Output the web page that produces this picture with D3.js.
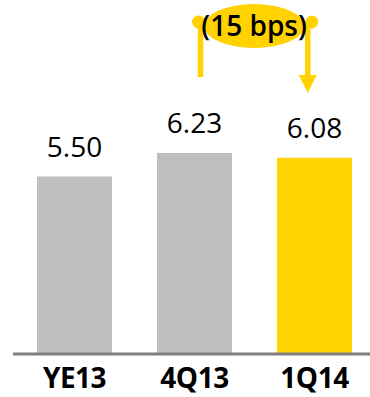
<!DOCTYPE html>
<html>
<head>
<meta charset="utf-8" />
<script src="https://d3js.org/d3.v7.min.js"></script>
<style>
    body { margin: 0; background: #fff; }
    text { font-family: "Open Sans", sans-serif; }
</style>
</head>
<body>
<script>
    // chart values
    var periods = ["YE13", "4Q13", "1Q14"];
    var values = [5.50, 6.23, 6.08];
    var barColors = ["#bfbfbf", "#bfbfbf", "#ffd200"];
    var changeLabel = "(15 bps)";

    var width = 370, height = 397;
    var baseY = 354;

    var svg = d3.select("body").append("svg")
        .attr("width", width)
        .attr("height", height);

    var x = d3.scaleBand()
        .domain(periods)
        .range([13, 376])
        .paddingInner(0.375)
        .paddingOuter(0.2);

    var y = d3.scaleLinear()
        .domain([0, 11])
        .range([baseY, -1]);

    var data = periods.map((p, i) => ({ period: p, value: values[i], color: barColors[i] }));

    // bars
    svg.append("g")
        .selectAll("rect")
        .data(data)
        .enter()
        .append("rect")
            .attr("x", d => x(d.period))
            .attr("y", d => y(d.value))
            .attr("width", x.bandwidth())
            .attr("height", d => baseY - y(d.value))
            .style("fill", d => d.color);

    // value labels
    svg.append("g")
        .selectAll("text")
        .data(data)
        .enter()
        .append("text")
            .attr("x", d => x(d.period) + x.bandwidth() / 2)
            .attr("y", d => y(d.value) - 20)
            .attr("text-anchor", "middle")
            .style("font-size", "28px")
            .style("fill", "#000")
            .text(d => d.value.toFixed(2));

    // x axis
    var axis = svg.append("g")
        .attr("transform", "translate(0," + baseY + ")")
        .call(d3.axisBottom(x).tickSize(0).tickPadding(14));
    axis.select(".domain").remove();
    axis.append("line")
        .attr("x1", 13).attr("x2", width)
        .attr("y1", 0).attr("y2", 0)
        .style("stroke", "#808080")
        .style("stroke-width", 3);
    axis.selectAll(".tick text")
        .style("font-family", "'Open Sans', sans-serif")
        .style("font-size", "28px")
        .style("font-weight", "bold")
        .style("letter-spacing", "-0.5px")
        .style("fill", "#000");

    // change annotation between 4Q13 and 1Q14
    var yellow = "#ffd200";
    var xa = x("4Q13") + x.bandwidth() * 0.58;
    var xb = x("1Q14") + x.bandwidth() * 0.41;
    var ann = svg.append("g");
    ann.append("line")
        .attr("x1", xa).attr("x2", xa)
        .attr("y1", 22).attr("y2", 77)
        .style("stroke", yellow).style("stroke-width", 5.5);
    ann.append("line")
        .attr("x1", xb).attr("x2", xb)
        .attr("y1", 22).attr("y2", 77)
        .style("stroke", yellow).style("stroke-width", 5.5);
    ann.append("path")
        .attr("d", "M" + (xb - 9) + ",75L" + (xb + 9) + ",75L" + xb + ",93Z")
        .style("fill", yellow);
    ann.append("circle").attr("cx", xa - 2).attr("cy", 22).attr("r", 6.5).style("fill", yellow);
    ann.append("circle").attr("cx", xb + 4).attr("cy", 22).attr("r", 6.5).style("fill", yellow);
    ann.append("ellipse")
        .attr("cx", (xa + xb) / 2)
        .attr("cy", 26)
        .attr("rx", 50)
        .attr("ry", 22)
        .style("fill", yellow);
    ann.append("text")
        .attr("x", (xa + xb) / 2)
        .attr("y", 36)
        .attr("text-anchor", "middle")
        .style("font-size", "28px")
        .style("font-weight", 600)
        .style("fill", "#000")
        .text(changeLabel);
</script>
</body>
</html>
